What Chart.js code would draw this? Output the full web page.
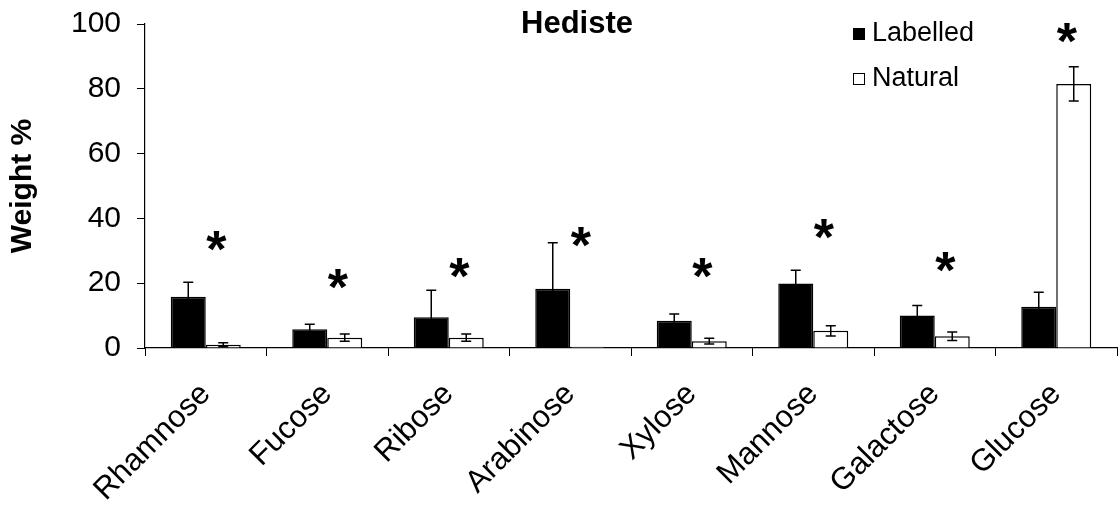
<!DOCTYPE html>
<html>
<head>
<meta charset="utf-8">
<title>Hediste</title>
<script src="https://cdn.jsdelivr.net/npm/chart.js@4/dist/chart.umd.min.js"></script>
<style>
  html, body { margin: 0; padding: 0; background: #fff; }
  #wrap { width: 1118px; height: 508px; }
</style>
</head>
<body>
<div id="wrap"><canvas id="c" width="1118" height="508"></canvas></div>
<script>
// Monosaccharide composition (weight %) of Hediste, labelled vs natural
const categories = ['Rhamnose', 'Fucose', 'Ribose', 'Arabinose', 'Xylose', 'Mannose', 'Galactose', 'Glucose'];
const labelled    = [15.8, 5.8, 9.5, 18.3, 8.4, 19.9, 10.0, 12.7];
const labelledErr = [4.5, 1.5, 8.3, 14.2, 2.1, 4.1, 3.1, 4.5];
const natural     = [1.0, 3.2, 3.2, 0.4, 2.1, 5.3, 3.6, 81.5];
const naturalErr  = [0.6, 1.1, 1.1, 0.0, 0.9, 1.6, 1.3, 5.3];
// height (weight %) at which the significance asterisk sits for each sugar
const starLevel   = [32.9, 21.2, 24.6, 34.4, 24.6, 36.7, 26.5, 97.2];
const yTicks      = [0, 20, 40, 60, 80, 100];

const FONT = '"Liberation Sans", Arial, Helvetica, sans-serif';

// error bars drawn from each bar's value +/- its error
const errorBars = {
  id: 'errorBars',
  afterDatasetsDraw(chart) {
    const ctx = chart.ctx;
    const y = chart.scales.y;
    ctx.save();
    ctx.strokeStyle = '#000';
    ctx.lineWidth = 1.5;
    chart.data.datasets.forEach((ds, di) => {
      const meta = chart.getDatasetMeta(di);
      meta.data.forEach((bar, i) => {
        const v = ds.data[i], e = ds.errors[i];
        if (!e) return;
        const top = y.getPixelForValue(v + e);
        const bot = y.getPixelForValue(Math.max(0, v - e));
        const cap = 5;
        ctx.beginPath();
        ctx.moveTo(bar.x, top); ctx.lineTo(bar.x, bot);
        ctx.moveTo(bar.x - cap, top); ctx.lineTo(bar.x + cap, top);
        ctx.moveTo(bar.x - cap, bot); ctx.lineTo(bar.x + cap, bot);
        ctx.stroke();
      });
    });
    ctx.restore();
  }
};

// asterisks marking significant differences
const stars = {
  id: 'stars',
  afterDatasetsDraw(chart) {
    const ctx = chart.ctx;
    const xs = chart.scales.x, ys = chart.scales.y;
    ctx.save();
    ctx.fillStyle = '#000';
    ctx.font = 'bold 52px ' + FONT;
    ctx.textAlign = 'left';
    ctx.textBaseline = 'alphabetic';
    const m = ctx.measureText('*');
    const inkW = m.actualBoundingBoxLeft + m.actualBoundingBoxRight;
    starLevel.forEach((lv, i) => {
      const cx = xs.getPixelForValue(i) + 11;
      const cy = ys.getPixelForValue(lv);
      const bx = cx - inkW / 2 + m.actualBoundingBoxLeft;
      const by = cy + (m.actualBoundingBoxAscent - m.actualBoundingBoxDescent) / 2;
      ctx.fillText('*', bx, by);
    });
    ctx.restore();
  }
};

// chart title and legend inside the plot area
const titleLegend = {
  id: 'titleLegend',
  afterDraw(chart) {
    const ctx = chart.ctx;
    ctx.save();
    ctx.fillStyle = '#000';
    ctx.font = 'bold 31px ' + FONT;
    ctx.textAlign = 'center';
    ctx.textBaseline = 'alphabetic';
    ctx.fillText('Hediste', 577, 33);

    ctx.font = '27px ' + FONT;
    ctx.textAlign = 'left';
    ctx.textBaseline = 'middle';
    const rows = [
      { text: chart.data.datasets[0].label, fill: '#000', y: 34 },
      { text: chart.data.datasets[1].label, fill: '#fff', y: 79 }
    ];
    rows.forEach(r => {
      ctx.fillStyle = r.fill;
      ctx.fillRect(853, r.y - 6, 12, 12);
      ctx.strokeStyle = '#000';
      ctx.lineWidth = 1;
      ctx.strokeRect(853.5, r.y - 5.5, 11, 11);
      ctx.fillStyle = '#000';
      ctx.fillText(r.text, 872, r.y);
    });
    ctx.restore();
  }
};

new Chart(document.getElementById('c'), {
  type: 'bar',
  data: {
    labels: categories,
    datasets: [
      { label: 'Labelled', data: labelled, errors: labelledErr,
        backgroundColor: '#000', borderColor: '#000', borderWidth: 1.5 },
      { label: 'Natural', data: natural, errors: naturalErr,
        backgroundColor: '#fff', borderColor: '#000', borderWidth: 1.5 }
    ]
  },
  options: {
    responsive: false,
    animation: false,
    devicePixelRatio: 1,
    layout: { padding: { top: 24, right: 1, left: 0, bottom: 0 } },
    datasets: { bar: { categoryPercentage: 0.576, barPercentage: 1 } },
    plugins: { legend: { display: false }, tooltip: { enabled: false }, title: { display: false } },
    scales: {
      x: {
        grid: { drawOnChartArea: false, offset: true, tickLength: 8, color: '#000', lineWidth: 1 },
        border: { color: '#000', width: 1.2 },
        ticks: { color: '#000', font: { family: FONT, size: 31 }, minRotation: 45, maxRotation: 45, padding: 20, autoSkip: false },
        afterFit(s) { s.height = 160; }
      },
      y: {
        min: 0, max: 100,
        afterBuildTicks(s) { s.ticks = yTicks.map(v => ({ value: v })); },
        grid: { drawOnChartArea: false, tickLength: 8, color: '#000', lineWidth: 1 },
        border: { color: '#000', width: 1.2 },
        ticks: { color: '#000', font: { family: FONT, size: 30 }, padding: 16 },
        title: { display: true, text: 'Weight %', color: '#000', font: { family: FONT, size: 30, weight: 'bold' }, padding: { top: 5, bottom: 0 } },
        afterFit(s) { s.width = 145; s.paddingTop = 0; s.paddingBottom = 0; }
      }
    }
  },
  plugins: [errorBars, stars, titleLegend]
});
</script>
</body>
</html>
